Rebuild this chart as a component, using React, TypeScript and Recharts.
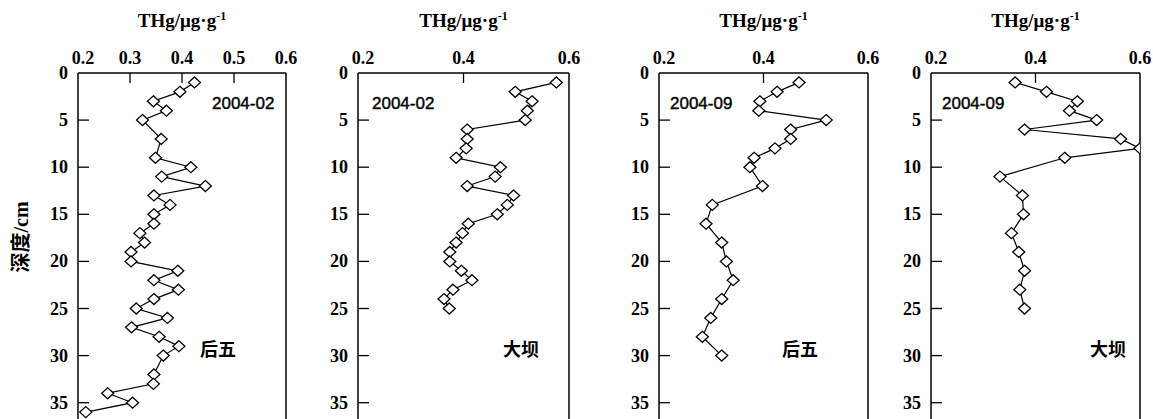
import React from 'react';
import { ScatterChart, Scatter, XAxis, YAxis, ReferenceLine } from 'recharts';

// THg (μg/g) by depth (cm)
const houwuFebDepth = [1, 2, 3, 4, 5, 7, 9, 10, 11, 12, 13, 14, 15, 16, 17, 18, 19, 20, 21, 22, 23, 24, 25, 26, 27, 28, 29, 30, 32, 33, 34, 35, 36];
const houwuFebThg = [0.424, 0.396, 0.345, 0.37, 0.324, 0.36, 0.349, 0.417, 0.361, 0.445, 0.346, 0.377, 0.346, 0.346, 0.319, 0.328, 0.302, 0.302, 0.392, 0.346, 0.393, 0.346, 0.312, 0.372, 0.303, 0.356, 0.394, 0.364, 0.346, 0.345, 0.257, 0.305, 0.215];

const dabaFebDepth = [1, 2, 3, 4, 5, 6, 7, 8, 9, 10, 11, 12, 13, 14, 15, 16, 17, 18, 19, 20, 21, 22, 23, 24, 25];
const dabaFebThg = [0.576, 0.498, 0.53, 0.521, 0.517, 0.407, 0.407, 0.405, 0.386, 0.47, 0.46, 0.407, 0.495, 0.483, 0.464, 0.409, 0.398, 0.386, 0.374, 0.374, 0.396, 0.416, 0.38, 0.363, 0.373];

const houwuSepDepth = [1, 2, 3, 4, 5, 6, 7, 8, 9, 10, 12, 14, 16, 18, 20, 22, 24, 26, 28, 30];
const houwuSepThg = [0.468, 0.426, 0.393, 0.391, 0.52, 0.452, 0.452, 0.422, 0.382, 0.374, 0.398, 0.302, 0.29, 0.32, 0.329, 0.342, 0.32, 0.299, 0.283, 0.32];

const dabaSepDepth = [1, 2, 3, 4, 5, 6, 7, 8, 9, 11, 13, 15, 17, 19, 21, 23, 25];
const dabaSepThg = [0.361, 0.421, 0.48, 0.465, 0.517, 0.379, 0.563, 0.6, 0.456, 0.332, 0.375, 0.377, 0.354, 0.368, 0.379, 0.37, 0.379];

const depthTicks = [0, 5, 10, 15, 20, 25, 30, 35];
const thgTicksFine = [0.2, 0.3, 0.4, 0.5, 0.6];
const thgTicksCoarse = [0.2, 0.4, 0.6];

const toRows = (depth: number[], thg: number[]) => depth.map((d, i) => ({ depth: d, thg: thg[i] }));

const panels = [
  { left: 78, width: 208, rows: toRows(houwuFebDepth, houwuFebThg), ticks: thgTicksFine, date: '2004-02', dateX: 212, site: '后五', siteX: 200 },
  { left: 358, width: 211, rows: toRows(dabaFebDepth, dabaFebThg), ticks: thgTicksCoarse, date: '2004-02', dateX: 372, site: '大坝', siteX: 503 },
  { left: 659, width: 209, rows: toRows(houwuSepDepth, houwuSepThg), ticks: thgTicksCoarse, date: '2004-09', dateX: 670, site: '后五', siteX: 782 },
  { left: 931, width: 209, rows: toRows(dabaSepDepth, dabaSepThg), ticks: thgTicksCoarse, date: '2004-09', dateX: 942, site: '大坝', siteX: 1090 },
];

const TOP = 73;
const H = 419;
const YW = 60;
const serif = '"Liberation Serif", "Times New Roman", serif';
const labelStyle = { fontFamily: serif, fontWeight: 700, fontSize: 18 };

const Diamond = (props: any) => {
  const { cx, cy } = props;
  if (cx == null || cy == null) return null;
  return (
    <polygon
      points={`${cx},${cy - 5.5} ${cx + 6},${cy} ${cx},${cy + 5.5} ${cx - 6},${cy}`}
      fill="#fff"
      stroke="#000"
      strokeWidth={1.3}
    />
  );
};

const XTick = (props: any) => {
  const { x, y, payload } = props;
  const v = payload.value;
  const edge = v === 0.2 || v === 0.6;
  return (
    <g>
      {!edge && <line x1={x} y1={y} x2={x} y2={y + 10} stroke="#000" strokeWidth={1.3} />}
      <text x={v === 0.2 ? x + 5 : x} y={y - 9} textAnchor="middle" style={labelStyle} fill="#000">
        {v.toFixed(1)}
      </text>
    </g>
  );
};

const YTick = (props: any) => {
  const { x, y, payload } = props;
  const v = payload.value;
  return (
    <g>
      {v !== 0 && <line x1={x} y1={y} x2={x + 11} y2={y} stroke="#000" strokeWidth={1.3} />}
      <text x={x - 10} y={y + 6} textAnchor="end" style={labelStyle} fill="#000">
        {v}
      </text>
    </g>
  );
};

function Panel({ p }: { p: (typeof panels)[number] }) {
  const maxDepth = (H - TOP) / 9.42;
  return (
    <div style={{ position: 'absolute', left: p.left - YW, top: 0 }}>
      <ScatterChart width={YW + p.width + 14} height={H} margin={{ top: 0, right: 14, left: 0, bottom: 0 }}>
        <XAxis
          type="number"
          dataKey="thg"
          orientation="top"
          domain={[0.2, 0.6]}
          ticks={p.ticks}
          height={TOP}
          allowDataOverflow
          axisLine={{ stroke: '#000', strokeWidth: 1.5 }}
          tickLine={false}
          tickSize={0}
          tickMargin={0}
          tick={XTick}
          interval={0}
        />
        <YAxis
          type="number"
          dataKey="depth"
          domain={[0, maxDepth]}
          reversed
          ticks={depthTicks}
          width={YW}
          allowDataOverflow
          axisLine={{ stroke: '#000', strokeWidth: 1.5 }}
          tickLine={false}
          tickSize={0}
          tickMargin={0}
          tick={YTick}
          interval={0}
        />
        <ReferenceLine x={0.6} stroke="#000" strokeWidth={1.5} ifOverflow="visible" />
        <Scatter data={p.rows} line={{ stroke: '#000', strokeWidth: 1.2 }} shape={Diamond} isAnimationActive={false} />
      </ScatterChart>
      <div
        style={{
          position: 'absolute',
          left: YW,
          width: p.width,
          top: 9,
          textAlign: 'center',
          fontFamily: serif,
          fontWeight: 'bold',
          fontSize: 19,
          lineHeight: '24px',
          whiteSpace: 'nowrap',
        }}
      >
        THg/μg·g<sup style={{ fontSize: 12, verticalAlign: 'top', lineHeight: '14px' }}>-1</sup>
      </div>
    </div>
  );
}

export default function App() {
  return (
    <div style={{ position: 'absolute', left: 0, top: 0, width: 1153, height: H, overflow: 'hidden', background: '#fff' }}>
      {panels.map((p, i) => (
        <Panel key={i} p={p} />
      ))}
      {panels.map((p, i) => (
        <div
          key={'d' + i}
          style={{
            position: 'absolute',
            left: p.dateX,
            top: 93,
            fontFamily: '"Liberation Sans", Arial, sans-serif',
            fontSize: 17,
            lineHeight: '22px',
            color: '#000',
            WebkitTextStroke: '0.4px #000',
          }}
        >
          {p.date}
        </div>
      ))}
      {panels.map((p, i) => (
        <div
          key={'s' + i}
          style={{ position: 'absolute', left: p.siteX, top: 336, fontFamily: '"Noto Sans CJK SC", sans-serif', fontWeight: 600, fontSize: 18, lineHeight: '24px', color: '#000' }}
        >
          {p.site}
        </div>
      ))}
      <div
        style={{
          position: 'absolute',
          left: 20,
          top: 237,
          transform: 'translate(-50%, -50%) rotate(-90deg)',
          fontFamily: '"Noto Sans CJK SC", sans-serif',
          fontWeight: 700,
          fontSize: 20,
          whiteSpace: 'nowrap',
          lineHeight: '22px',
        }}
      >
        深度<span style={{ fontFamily: serif, fontSize: 20 }}>/cm</span>
      </div>
    </div>
  );
}
